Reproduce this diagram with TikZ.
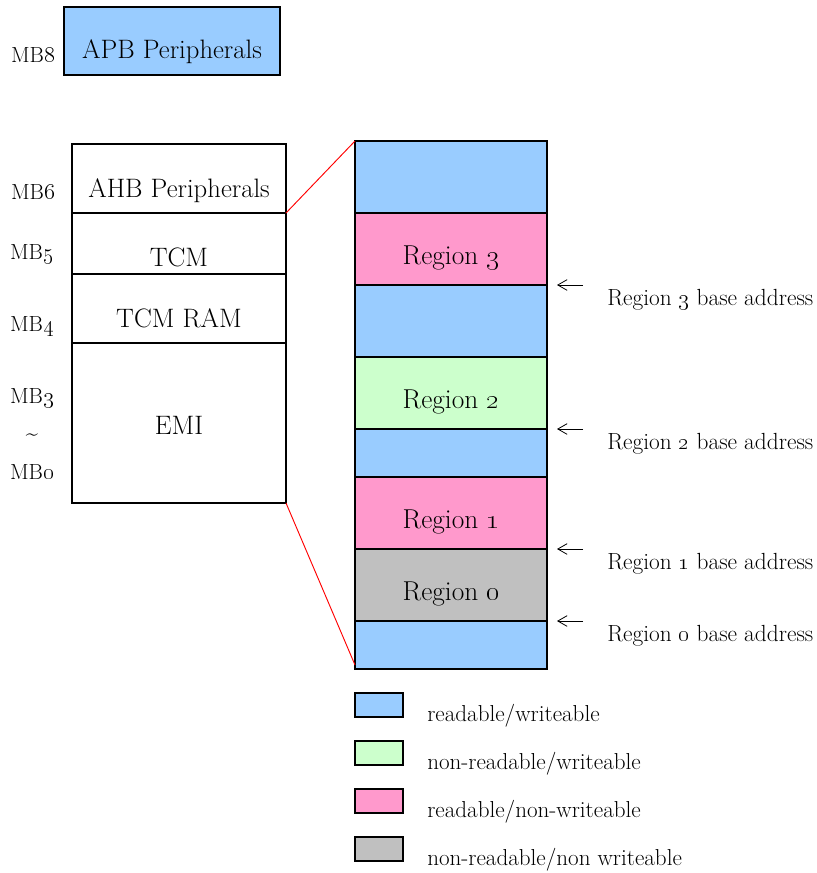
\documentclass[tikz,border=0pt]{standalone}
\usepackage{tikz}
\usetikzlibrary{arrows.meta,positioning,calc}
\definecolor{rwblue}{HTML}{99CCFF}
\definecolor{nrwgreen}{HTML}{CCFFCC}
\definecolor{rnwpink}{HTML}{FF99CC}
\definecolor{nrnwgray}{HTML}{C0C0C0}
\newcommand{\onum}[1]{\oldstylenums{#1}}
\tikzset{
  mem/.style={draw,line width=0.9pt,outer sep=0pt,inner sep=0pt,minimum width=160.5pt,font=\fontsize{20}{24}\selectfont},
  band/.style={draw,line width=0.9pt,outer sep=0pt,inner sep=0pt,minimum width=144pt,font=\fontsize{20.5}{24}\selectfont},
  txtdrop/.style={text height=#1,text depth=0pt},
  mblabel/.style={inner sep=0pt,font=\fontsize{16.4}{19}\selectfont},
  note/.style={inner sep=0pt,anchor=west,font=\fontsize{17.5}{21}\selectfont},
  keybox/.style={draw,line width=0.9pt,minimum width=36pt,minimum height=18pt,inner sep=0pt},
  keytext/.style={inner sep=0pt,anchor=west,font=\fontsize{17.3}{21}\selectfont},
}
\begin{document}
\begin{tikzpicture}[x=0.75pt,y=-0.75pt,>={Straight Barb[length=7pt,width=8pt]}]
\useasboundingbox (0,0) rectangle (816,873);

% APB block
\node[mem,fill=rwblue,minimum width=162pt,minimum height=51pt,txtdrop=27pt] (apb) at (172,41) {APB Peripherals};

% memory map
\node[mem,minimum height=51.75pt,txtdrop=28pt] (ahb) at (179,178.5) {AHB Peripherals};
\node[mem,minimum height=45.75pt,txtdrop=34pt,below=0pt of ahb] (tcm) {TCM};
\node[mem,minimum height=51.75pt,txtdrop=28pt,below=0pt of tcm] (tcmram) {TCM RAM};
\node[mem,minimum height=120pt,txtdrop=17pt,below=0pt of tcmram] (emi) {EMI};

% MB labels
\node[mblabel] (mb8) at (33,55) {MB\onum{8}};
\node[mblabel] (mb6) at (33,192) {MB\onum{6}};
\node[mblabel] (mb5) at (32,254) {MB\onum{5}};
\node[mblabel] (mb4) at (32,326) {MB\onum{4}};
\node[mblabel] (mb3) at (32,398) {MB\onum{3}};
\node[mblabel] (tilde) at (32,437) {\textasciitilde};
\node[mblabel] (mb0) at (32,472) {MB\onum{0}};

% EMI zoom: regions
\node[band,fill=rwblue,minimum height=54pt] (free3) at (451,177) {};
\node[band,fill=rnwpink,minimum height=54pt,txtdrop=23pt,below=0pt of free3] (reg3) {Region \onum{3}};
\node[band,fill=rwblue,minimum height=54pt,below=0pt of reg3] (free2) {};
\node[band,fill=nrwgreen,minimum height=54pt,txtdrop=23pt,below=0pt of free2] (reg2) {Region \onum{2}};
\node[band,fill=rwblue,minimum height=36pt,below=0pt of reg2] (free1) {};
\node[band,fill=rnwpink,minimum height=54pt,txtdrop=23pt,below=0pt of free1] (reg1) {Region \onum{1}};
\node[band,fill=nrnwgray,minimum height=54pt,txtdrop=23pt,below=0pt of reg1] (reg0) {Region \onum{0}};
\node[band,fill=rwblue,minimum height=36pt,below=0pt of reg0] (free0) {};

\draw[red,line width=0.7pt] (ahb.south east) -- (free3.north west);
\draw[red,line width=0.7pt] (emi.south east) -- ($(free0.south west)+(0,-4)$);

% base addresses
\foreach \r in {0,...,3}{
  \coordinate (tip\r) at ($(reg\r.south east)+(10,0)$);
  \coordinate (tail\r) at ($(reg\r.south east)+(36,0)$);
  \draw[->,line width=0.6pt] (tail\r) -- (tip\r);
  \node[note] (addr\r) at ($(reg\r.south east)+(60,15)$) {Region \onum{\r} base address};
}

% legend
\foreach \c/\t [count=\i] in {rwblue/readable\slash writeable, nrwgreen/non-readable\slash writeable, rnwpink/readable\slash non-writeable, nrnwgray/non-readable\slash non writeable}{
  \node[keybox,fill=\c] (key\i) at (379,{657+48*\i}) {};
  \node[keytext] (keytxt\i) at (427,{668+48*\i}) {\t};
}
\end{tikzpicture}
\end{document}
